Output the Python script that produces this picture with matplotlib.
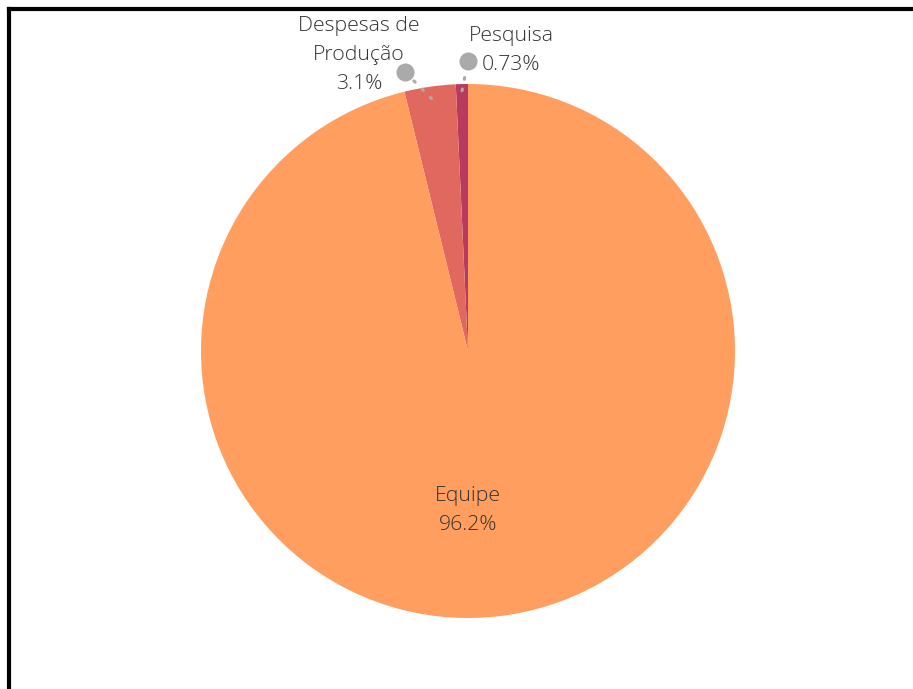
import numpy as np
import matplotlib
matplotlib.use("Agg")
import matplotlib.pyplot as plt
from matplotlib.lines import Line2D

labels = ["Pesquisa", "Despesas de\nProdução", "Equipe"]
values = [0.73, 3.1, 96.2]
pct_text = ["0.73%", "3.1%", "96.2%"]
colors = ["#b83a5e", "#e1685f", "#ff9e5f"]

plt.rcParams["font.family"] = ["Open Sans", "DejaVu Sans"]
TXT = "#333333"
FS = 15.3
LS = 1.6

W, H = 913, 689
fig = plt.figure(figsize=(W / 100, H / 100), dpi=100)
ax = fig.add_axes([0, 0, 1, 1])

cx, cy, R = 468, H - 351, 267
wedges, _ = ax.pie(values, colors=colors, startangle=90, counterclock=True,
                   center=(cx, cy), radius=R, frame=True,
                   wedgeprops=dict(linewidth=0))
ax.set_xlim(0, W)
ax.set_ylim(0, H)
ax.axis("off")

# inside label for the big slice
ax.text(cx, H - 511, f"{labels[2]}\n{pct_text[2]}", ha="center", va="center",
        fontsize=FS, color=TXT, linespacing=LS, fontweight="light")

# outside labels with dot + dotted leader
outside = [
    (0, (468, H - 61), (511, H - 50), 0.975),
    (1, (405, H - 72), (359, H - 55), 0.955),
]
for i, dot, txtpos, rr in outside:
    w = wedges[i]
    ang = np.deg2rad((w.theta1 + w.theta2) / 2)
    ax0, ay0 = cx + rr * R * np.cos(ang), cy + rr * R * np.sin(ang)
    ax.add_line(Line2D([ax0, dot[0]], [ay0, dot[1]], color="#aaaaaa", lw=2.2,
                       ls=(0, (0.6, 3.2)), solid_capstyle="round",
                       dash_capstyle="round"))
    ax.plot(dot[0], dot[1], "o", ms=13, color="#aaaaaa", mec="none")
    ax.text(txtpos[0], txtpos[1], f"{labels[i]}\n{pct_text[i]}", ha="center",
            va="center", fontsize=FS, color=TXT, linespacing=LS,
            fontweight="light")

# partial frame (top and left edges)
fig.add_artist(Line2D([8.5 / W, 1], [1 - 8.5 / H, 1 - 8.5 / H],
                      transform=fig.transFigure, color="black", lw=3))
fig.add_artist(Line2D([8.5 / W, 8.5 / W], [0, 1 - 8.5 / H],
                      transform=fig.transFigure, color="black", lw=3))

fig.savefig("out.png", dpi=100, facecolor="white")
